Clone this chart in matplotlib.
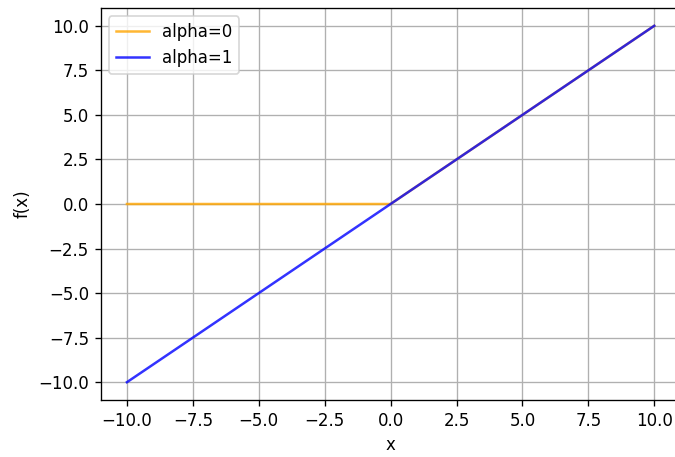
import matplotlib
matplotlib.use("Agg")
import matplotlib.pyplot as plt

# leaky relu, two slopes for the negative side
x = [-10.0, 0.0, 10.0]
y_alpha0 = [0.0, 0.0, 10.0]
y_alpha1 = [-10.0, 0.0, 10.0]

fig = plt.figure(figsize=(675 / 120, 457 / 120), dpi=120)
ax = fig.add_axes([0.149, 0.1247, 0.8593, 0.8578])

ax.plot(x, y_alpha0, color="orange", alpha=0.8, linewidth=1.5, label="alpha=0")
ax.plot(x, y_alpha1, color="blue", alpha=0.8, linewidth=1.5, label="alpha=1")

ax.set_xlabel("x")
ax.set_ylabel("f(x)")
ax.grid(True)
ax.legend(loc="upper left")

fig.savefig("out.png", dpi=120)
